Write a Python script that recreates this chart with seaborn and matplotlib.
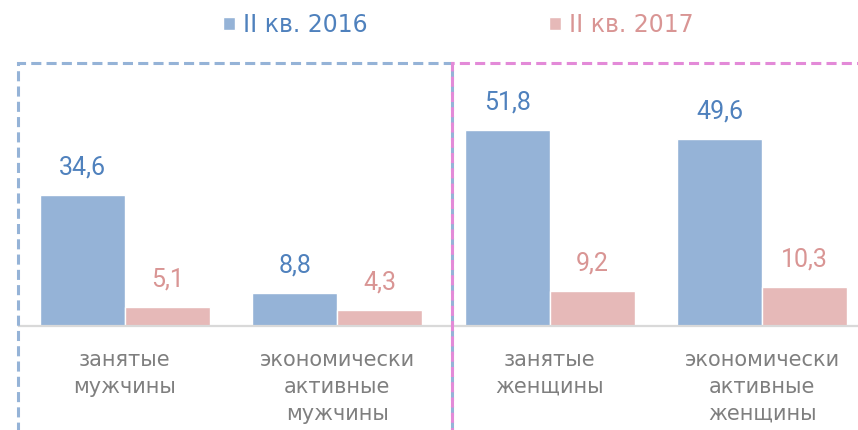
#!/usr/bin/env python3

import seaborn as sns
import pandas as pd
import matplotlib.pyplot as plt
from matplotlib.patches import Rectangle

categories = ['занятые\nмужчины', 'экономически\nактивные\nмужчины',
              'занятые\nженщины', 'экономически\nактивные\nженщины']
periods = ['II кв. 2016', 'II кв. 2017']
values_2016 = [34.6, 8.8, 51.8, 49.6]
values_2017 = [5.1, 4.3, 9.2, 10.3]

bar_colors = ['#95b3d7', '#e6b9b8']
text_colors = ['#4f81bd', '#d99594']

df = pd.DataFrame({
    'category': categories * 2,
    'period': [periods[0]] * 4 + [periods[1]] * 4,
    'value': values_2016 + values_2017,
})

sns.set_style('white')
plt.rcParams['font.family'] = ['DejaVu Sans']

fig = plt.figure(figsize=(8.58, 4.30), dpi=100)
ax = fig.add_axes([18.5 / 858, 104 / 430, 850 / 858, 263 / 430])

sns.barplot(data=df, x='category', y='value', hue='period', palette=bar_colors,
            saturation=1, edgecolor='white', linewidth=1, width=0.8, ax=ax)

ax.set_xlim(-0.5, 3.5)
ax.set_ylim(0, 69.6)
ax.set_xlabel('')
ax.set_ylabel('')
ax.set_yticks([])
for s in ['top', 'left', 'right']:
    ax.spines[s].set_visible(False)
ax.spines['bottom'].set_color('#d9d9d9')
ax.spines['bottom'].set_linewidth(1.6)

ax.tick_params(axis='x', which='major', length=0, pad=17, labelsize=15, labelcolor='#7f7f7f')
ax.set_xticks([-0.5, 0.5, 1.5, 2.5, 3.5], minor=True)
ax.tick_params(axis='x', which='minor', length=4, color='#d9d9d9', width=1)
for lbl in ax.get_xticklabels():
    lbl.set_linespacing(1.45)

for cont, col in zip(ax.containers, text_colors):
    labels = [f'{b.get_height():.1f}'.replace('.', ',') for b in cont]
    ax.bar_label(cont, labels=labels, padding=11, color=col, fontsize=18,
                 family=['Roboto', 'DejaVu Sans'])

handles, labels = ax.get_legend_handles_labels()
ax.get_legend().remove()
fig.legend(handles, labels, loc='center', bbox_to_anchor=(458.5 / 858, 1 - 25 / 430),
           ncol=2, frameon=False, fontsize=17, handlelength=0.5, handleheight=0.5,
           handletextpad=0.34, columnspacing=7.7, labelcolor=text_colors)

# dashed frames around the men / women groups
top = 1 - 63 / 430
fig.add_artist(Rectangle((18 / 858, -0.1), (452 - 18) / 858, top + 0.1,
                         transform=fig.transFigure, fill=False, ec='#95b3d7',
                         lw=2.2, ls=(0, (3.3, 1.7)), clip_on=False))
fig.add_artist(Rectangle((452 / 858, -0.1), 0.6, top + 0.1,
                         transform=fig.transFigure, fill=False, ec='#e38ad8',
                         lw=2.2, ls=(2.5, (3.3, 1.7)), clip_on=False))

plt.savefig('out.png', dpi=100)
